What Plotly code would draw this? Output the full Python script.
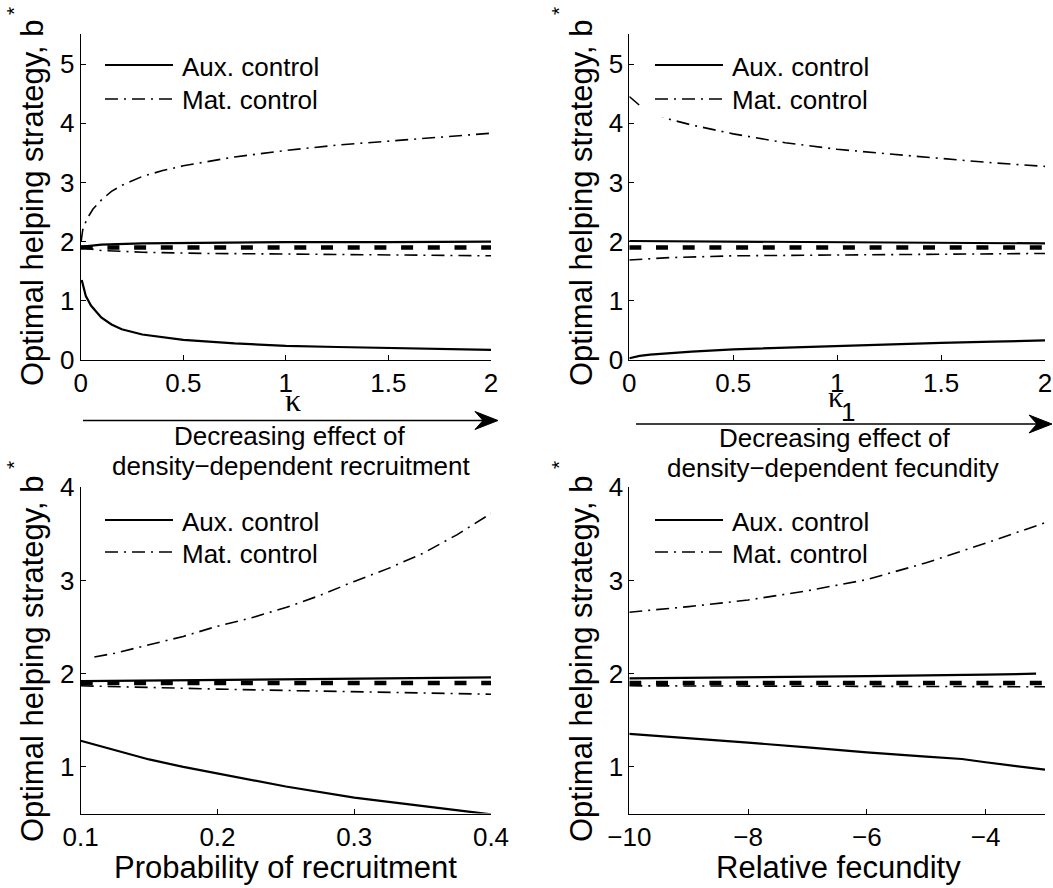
import plotly.graph_objects as go

W, H = 1053, 888
FONT = "Liberation Sans"
SERIF = "Liberation Serif"

# ---------------- data ----------------
# Panel A: kappa (density-dependent recruitment)
a_aux_low_x = [0.005, 0.025, 0.05, 0.1, 0.15, 0.2, 0.3, 0.4, 0.5, 0.75, 1.0, 1.25, 1.5, 1.75, 2.0]
a_aux_low_y = [1.35, 1.08, 0.92, 0.72, 0.6, 0.52, 0.43, 0.38, 0.34, 0.28, 0.24, 0.22, 0.2, 0.185, 0.17]
a_aux_high_x = [0.0, 0.1, 0.3, 0.6, 1.0, 1.5, 2.0]
a_aux_high_y = [1.91, 1.95, 1.97, 1.98, 1.99, 1.99, 2.0]
a_mat_high_x = [0.002, 0.01, 0.03, 0.06, 0.1, 0.15, 0.2, 0.3, 0.4, 0.5, 0.75, 1.0, 1.25, 1.5, 1.75, 2.0]
a_mat_high_y = [2.0, 2.2, 2.38, 2.55, 2.7, 2.85, 2.95, 3.1, 3.2, 3.28, 3.43, 3.54, 3.63, 3.7, 3.77, 3.83]
a_mat_low_x = [0.0, 0.1, 0.3, 0.6, 1.0, 1.3, 1.6, 2.0]
a_mat_low_y = [1.9, 1.85, 1.82, 1.8, 1.79, 1.78, 1.77, 1.76]
a_ref_x = [0.0, 2.0]
a_ref_y = [1.9, 1.9]

# Panel B: kappa_1 (density-dependent fecundity)
b_aux_low_x = [0.0, 0.02, 0.05, 0.1, 0.2, 0.3, 0.5, 0.75, 1.0, 1.25, 1.5, 1.75, 2.0]
b_aux_low_y = [0.03, 0.05, 0.07, 0.09, 0.12, 0.14, 0.18, 0.21, 0.24, 0.265, 0.29, 0.31, 0.33]
b_aux_high_x = [0.0, 0.5, 1.0, 1.5, 2.0]
b_aux_high_y = [2.01, 2.0, 1.99, 1.98, 1.97]
b_mat_high_x = [0.0, 0.05, 0.1, 0.2, 0.3, 0.5, 0.75, 1.0, 1.25, 1.5, 1.75, 2.0]
b_mat_high_y = [4.45, 4.3, 4.2, 4.06, 3.97, 3.82, 3.67, 3.56, 3.48, 3.4, 3.33, 3.27]
b_mat_low_x = [0.0, 0.2, 0.5, 0.8, 1.2, 1.6, 2.0]
b_mat_low_y = [1.69, 1.73, 1.76, 1.77, 1.78, 1.79, 1.8]
b_ref_x = [0.0, 2.0]
b_ref_y = [1.9, 1.9]

# Panel C: probability of recruitment
c_aux_low_x = [0.1, 0.125, 0.15, 0.175, 0.2, 0.25, 0.3, 0.35, 0.4]
c_aux_low_y = [1.28, 1.18, 1.08, 1.0, 0.93, 0.79, 0.67, 0.58, 0.49]
c_aux_high_x = [0.1, 0.2, 0.3, 0.4]
c_aux_high_y = [1.92, 1.935, 1.95, 1.96]
c_mat_high_x = [0.11, 0.125, 0.15, 0.175, 0.2, 0.225, 0.25, 0.275, 0.3, 0.325, 0.35, 0.375, 0.4]
c_mat_high_y = [2.18, 2.22, 2.31, 2.4, 2.51, 2.6, 2.71, 2.84, 2.99, 3.13, 3.29, 3.49, 3.72]
c_mat_low_x = [0.1, 0.15, 0.2, 0.25, 0.3, 0.4]
c_mat_low_y = [1.87, 1.85, 1.835, 1.82, 1.805, 1.78]
c_ref_x = [0.1, 0.4]
c_ref_y = [1.9, 1.9]

# Panel D: relative fecundity
d_aux_low_x = [-10, -9, -8, -7, -6, -5, -4.4, -4, -3.5, -3]
d_aux_low_y = [1.355, 1.31, 1.26, 1.21, 1.155, 1.11, 1.085, 1.05, 1.01, 0.97]
d_aux_high_x = [-10, -8, -6, -4, -3.15]
d_aux_high_y = [1.95, 1.96, 1.975, 1.99, 2.0]
d_mat_high_x = [-10, -9, -8, -7, -6, -5, -4, -3.5, -3]
d_mat_high_y = [2.66, 2.72, 2.79, 2.89, 3.01, 3.19, 3.40, 3.51, 3.62]
d_mat_low_x = [-10, -8, -6, -4, -3]
d_mat_low_y = [1.87, 1.868, 1.865, 1.862, 1.86]
d_ref_x = [-10, -3]
d_ref_y = [1.9, 1.9]

legend_labels = ["Aux. control", "Mat. control"]
ylabel = "Optimal helping strategy, b"
ylabel_sup = "*"
top_ticks = [0, 1, 2, 3, 4, 5]
bot_ticks = [1, 2, 3, 4]
a_xticks = [0, 0.5, 1, 1.5, 2]
c_xticks = [0.1, 0.2, 0.3, 0.4]
d_xticks = [-10, -8, -6, -4]

# ---------------- styling ----------------
SOLID = dict(color="black", width=2.2)
DASHDOT = dict(color="black", width=1.6, dash="13px,6px,2px,6px")
THICKDASH = dict(color="black", width=4.5, dash="12px,14.7px")


def fx(px):
    return px / W


def fy(py):
    return 1 - py / H


fig = go.Figure()

panels = [
    ("x", "y", a_aux_low_x, a_aux_low_y, a_aux_high_x, a_aux_high_y, a_mat_high_x, a_mat_high_y, a_mat_low_x, a_mat_low_y, a_ref_x, a_ref_y),
    ("x2", "y2", b_aux_low_x, b_aux_low_y, b_aux_high_x, b_aux_high_y, b_mat_high_x, b_mat_high_y, b_mat_low_x, b_mat_low_y, b_ref_x, b_ref_y),
    ("x3", "y3", c_aux_low_x, c_aux_low_y, c_aux_high_x, c_aux_high_y, c_mat_high_x, c_mat_high_y, c_mat_low_x, c_mat_low_y, c_ref_x, c_ref_y),
    ("x4", "y4", d_aux_low_x, d_aux_low_y, d_aux_high_x, d_aux_high_y, d_mat_high_x, d_mat_high_y, d_mat_low_x, d_mat_low_y, d_ref_x, d_ref_y),
]

for (xa, ya, alx, aly, ahx, ahy, mhx, mhy, mlx, mly, rx, ry) in panels:
    fig.add_trace(go.Scatter(x=rx, y=ry, mode="lines", line=THICKDASH, xaxis=xa, yaxis=ya, showlegend=False))
    fig.add_trace(go.Scatter(x=alx, y=aly, mode="lines", line=SOLID, xaxis=xa, yaxis=ya, showlegend=False))
    fig.add_trace(go.Scatter(x=ahx, y=ahy, mode="lines", line=SOLID, xaxis=xa, yaxis=ya, showlegend=False))
    fig.add_trace(go.Scatter(x=mhx, y=mhy, mode="lines", line=DASHDOT, xaxis=xa, yaxis=ya, showlegend=False))
    fig.add_trace(go.Scatter(x=mlx, y=mly, mode="lines", line=DASHDOT, xaxis=xa, yaxis=ya, showlegend=False))

tickfont = dict(family=FONT, size=26, color="black")
common = dict(showline=True, linecolor="black", linewidth=1, ticks="inside", ticklen=5,
              tickcolor="black", tickwidth=1, showgrid=False, zeroline=False,
              tickfont=tickfont, fixedrange=True, automargin=False)

dom_xl = [fx(80.7), fx(491)]
dom_xr = [fx(629.3), fx(1045)]
dom_yt = [fy(360), fy(34.4)]
dom_yb = [fy(813.5), fy(487.3)]

fig.update_layout(
    template="none",
    width=W, height=H,
    margin=dict(l=0, r=0, t=0, b=0, pad=0, autoexpand=False),
    paper_bgcolor="white", plot_bgcolor="white",
    font=dict(family=FONT, size=26, color="black"),
    showlegend=False,
    xaxis=dict(domain=dom_xl, range=[0, 2], tickvals=a_xticks, anchor="y", **common),
    yaxis=dict(domain=dom_yt, range=[0, 5.5], tickvals=top_ticks, anchor="x", **common),
    xaxis2=dict(domain=dom_xr, range=[0, 2], tickvals=a_xticks, anchor="y2", **common),
    yaxis2=dict(domain=dom_yt, range=[0, 5.5], tickvals=top_ticks, anchor="x2", **common),
    xaxis3=dict(domain=dom_xl, range=[0.1, 0.4], tickvals=c_xticks, anchor="y3", **common),
    yaxis3=dict(domain=dom_yb, range=[0.5, 4], tickvals=bot_ticks, anchor="x3", **common),
    xaxis4=dict(domain=dom_xr, range=[-10, -3], tickvals=d_xticks, anchor="y4", **common),
    yaxis4=dict(domain=dom_yb, range=[0.5, 4], tickvals=bot_ticks, anchor="x4", **common),
)

shapes = []
annotations = []

# legends (white background box, line samples, labels)
legend_specs = [
    # (box x0, box x1, box y0, box y1, line x0, line x1, y_aux, y_mat, text x)
    (95, 330, 47, 117, 105, 173, 65, 99, 180),
    (641, 880, 47, 117, 655, 723, 65, 99, 730),
    (95, 330, 502, 570, 105, 173, 520, 552, 180),
    (641, 880, 502, 570, 655, 723, 520, 552, 730),
]
for (bx0, bx1, by0, by1, lx0, lx1, ya_, ym_, tx) in legend_specs:
    shapes.append(dict(type="rect", xref="paper", yref="paper", x0=fx(bx0), x1=fx(bx1),
                       y0=fy(by1), y1=fy(by0), fillcolor="white", line=dict(width=0), layer="above"))
    shapes.append(dict(type="line", xref="paper", yref="paper", x0=fx(lx0), x1=fx(lx1),
                       y0=fy(ya_), y1=fy(ya_), line=dict(color="black", width=2), layer="above"))
    shapes.append(dict(type="line", xref="paper", yref="paper", x0=fx(lx0), x1=fx(lx1),
                       y0=fy(ym_), y1=fy(ym_), line=dict(color="black", width=1.6, dash="13px,6px,2px,6px"), layer="above"))
    for lab, yy in zip(legend_labels, [ya_ + 1.5, ym_ + 1.5]):
        annotations.append(dict(text=lab, xref="paper", yref="paper", x=fx(tx), y=fy(yy),
                                xanchor="left", yanchor="middle", showarrow=False,
                                font=dict(family=FONT, size=26, color="black")))

# y-axis labels (rotated) with separate superscript star
for (cx, cy, sx, sy) in [(32, 203, 13, 11), (581, 203, 558, 11),
                         (32, 659, 13, 465), (581, 659, 558, 465)]:
    annotations.append(dict(text=ylabel, xref="paper", yref="paper", x=fx(cx), y=fy(cy),
                            xanchor="center", yanchor="middle", textangle=-90, showarrow=False,
                            font=dict(family=FONT, size=31, color="black")))
    annotations.append(dict(text=ylabel_sup, xref="paper", yref="paper", x=fx(sx), y=fy(sy),
                            xanchor="center", yanchor="middle", textangle=-90, showarrow=False,
                            font=dict(family=FONT, size=21, color="black")))

# x-axis titles
annotations.append(dict(text="κ", xref="paper", yref="paper", x=fx(293), y=fy(400),
                        xanchor="center", yanchor="middle", showarrow=False,
                        font=dict(family=SERIF, size=32, color="black")))
annotations.append(dict(text="κ", xref="paper", yref="paper", x=fx(835), y=fy(397),
                        xanchor="center", yanchor="middle", showarrow=False,
                        font=dict(family=SERIF, size=30, color="black")))
annotations.append(dict(text="1", xref="paper", yref="paper", x=fx(848), y=fy(411.5),
                        xanchor="center", yanchor="middle", showarrow=False,
                        font=dict(family=FONT, size=26, color="black")))
for txt, cx, cy, sz in [("Decreasing effect of", 290, 436, 26),
                        ("density−dependent recruitment", 291, 466, 26),
                        ("Decreasing effect of", 835, 438, 26),
                        ("density−dependent fecundity", 833, 468, 26),
                        ("Probability of recruitment", 285, 867, 31),
                        ("Relative fecundity", 838, 867, 31)]:
    annotations.append(dict(text=txt, xref="paper", yref="paper", x=fx(cx), y=fy(cy),
                            xanchor="center", yanchor="middle", showarrow=False,
                            font=dict(family=FONT, size=sz, color="black")))

# arrows
for (x0, tip, yy) in [(83, 498, 420.5), (636, 1052, 424)]:
    shapes.append(dict(type="line", xref="paper", yref="paper", x0=fx(x0), x1=fx(tip - 14),
                       y0=fy(yy), y1=fy(yy), line=dict(color="black", width=1.5)))
    path = "M {:.5f},{:.5f} L {:.5f},{:.5f} L {:.5f},{:.5f} L {:.5f},{:.5f} Z".format(
        fx(tip), fy(yy), fx(tip - 23), fy(yy - 9), fx(tip - 15), fy(yy), fx(tip - 23), fy(yy + 9))
    shapes.append(dict(type="path", xref="paper", yref="paper", path=path,
                       fillcolor="black", line=dict(color="black", width=1)))

fig.update_layout(shapes=shapes, annotations=annotations)
fig.write_html("out.html")
